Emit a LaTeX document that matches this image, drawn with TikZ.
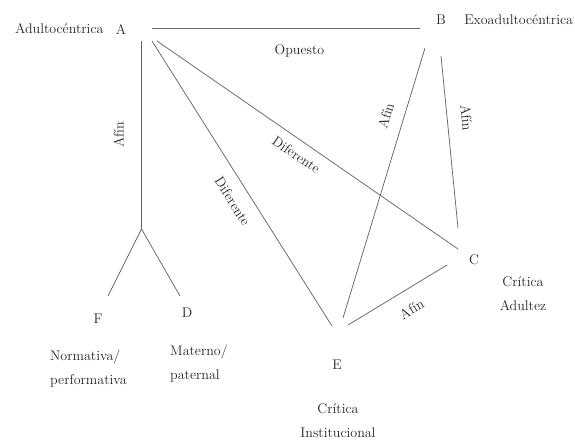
\documentclass[tikz,border=0pt]{standalone}
\usepackage{tikz}
\usetikzlibrary{positioning}

\begin{document}
\begin{tikzpicture}[
  x=1pt, y=-1pt,
  every node/.style={font=\fontsize{14}{24}\selectfont, text=black!85},
  vtx/.style={inner sep=1pt},
  desc/.style={inner sep=1pt, align=center},
  rel/.style={draw=black!60, line width=0.75pt},
  lbl/.style={sloped, inner sep=#1},
  lbl/.default=13pt,
]
  \useasboundingbox (0,0) rectangle (575,440);

  % letters
  \node[vtx] (A) at (121,29)  {A};
  \node[vtx] (B) at (441,20)  {B};
  \node[vtx] (C) at (474,260) {C};
  \node[vtx] (D) at (187,313) {D};
  \node[vtx] (E) at (337,365) {E};
  \node[vtx] (F) at (98,319)  {F};

  % descriptions
  \node[vtx, left=10pt of A]  (a) {Adultocéntrica};
  \node[vtx, right=16pt of B] (b) {Exoadultocéntrica};
  \node[desc] (c) at (523,294) {Crítica\\Adultez};
  \node[desc, align=left, anchor=west] (f) at (49,369)  {Normativa/\\performativa};
  \node[desc, align=left, anchor=west] (d) at (169,364) {Materno/\\paternal};
  \node[desc] (e) at (338,421) {Crítica\\Institucional};

  % line ends
  \coordinate (aB) at (152,28);
  \coordinate (bA) at (420,28);
  \coordinate (aT) at (141.5,41);
  \coordinate (t)  at (141.5,229);
  \coordinate (fT) at (108,296);
  \coordinate (dT) at (180,296);
  \coordinate (aC) at (157,41);
  \coordinate (cA) at (458,249);
  \coordinate (aE) at (152,41);
  \coordinate (eA) at (332,326);
  \coordinate (bE) at (425,48);
  \coordinate (eB) at (343,318);
  \coordinate (bC) at (441,56);
  \coordinate (cB) at (458,228);
  \coordinate (eC) at (348,325);
  \coordinate (cE) at (447,265);

  \draw[rel] (aB) -- (bA) node[lbl=16pt, pos=0.55, below] {Opuesto};
  \draw[rel] (t) -- (aT) node[lbl=17.5pt, pos=0.5, above] {Afín};
  \draw[rel] (fT) -- (t) -- (dT);
  \draw[rel] (aC) -- (cA) node[lbl=9pt, pos=0.49, below] {Diferente};
  \draw[rel] (aE) -- (eA) node[lbl=12pt, pos=0.53, below] {Diferente};
  \draw[rel] (eB) -- (bE) node[lbl=12.5pt, pos=0.73, above] {Afín};
  \draw[rel] (bC) -- (cB) node[lbl=14pt, pos=0.37, above] {Afín};
  \draw[rel] (eC) -- (cE) node[lbl=14pt, pos=0.54, below] {Afín};
\end{tikzpicture}
\end{document}
